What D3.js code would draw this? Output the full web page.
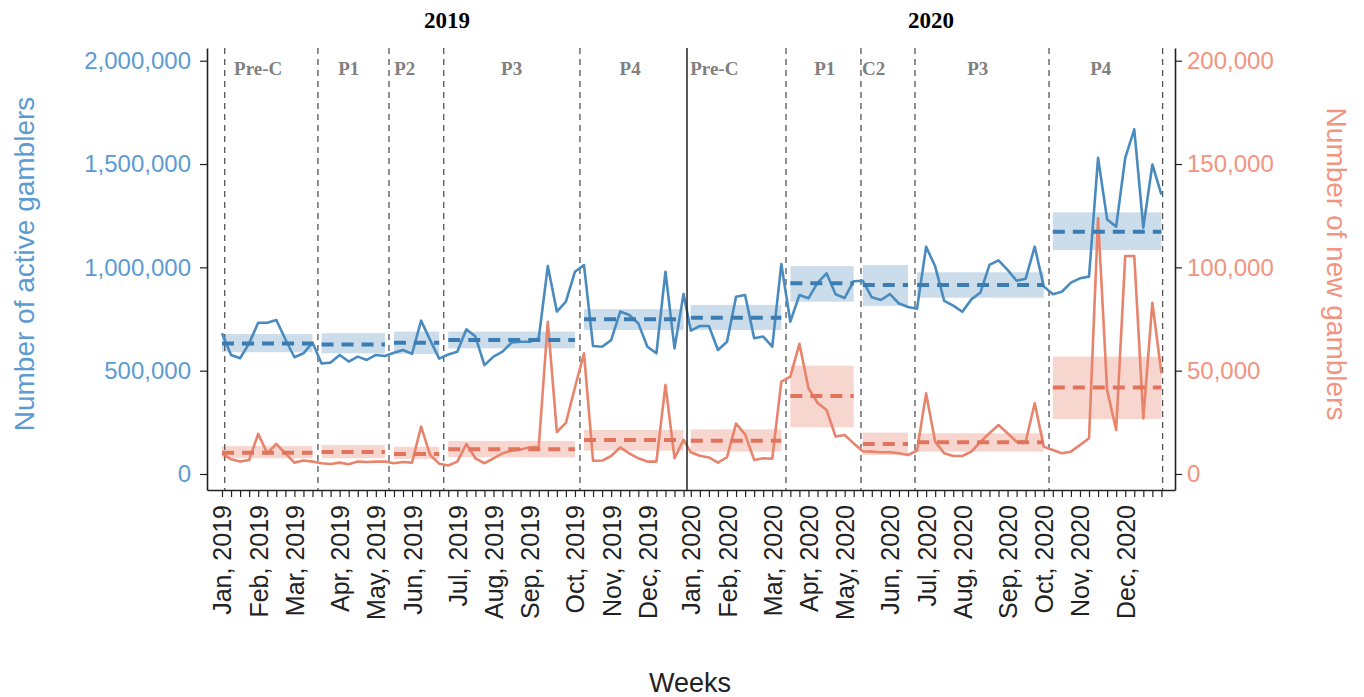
<!DOCTYPE html>
<html><head><meta charset="utf-8">
<script src="https://cdn.jsdelivr.net/npm/d3@7"></script>
<style>body{margin:0;background:#fff} svg{display:block}</style>
</head><body>
<svg id="chart" width="1364" height="697"></svg>
<script>
// ---------- DATA ----------
const years = ["2019", "2020"];
const monthNames = ["Jan","Feb","Mar","Apr","May","Jun","Jul","Aug","Sep","Oct","Nov","Dec"];
const monthWeeks2019 = [0,4,8,13,17,21,26,30,34,39,43,47];
const monthWeeks2020 = [0,4,9,13,17,22,26,30,35,39,43,48];
const weeksInYear = {"2019": 52, "2020": 53};

const active2019 = [681000,576000,560000,632000,732000,732000,745000,652000,565000,584000,636000,535000,539000,576000,544000,568000,552000,576000,571000,587000,600000,581000,742000,648000,558000,578000,592000,700000,665000,527000,568000,592000,636000,640000,640000,657000,1006000,786000,834000,979000,1011000,619000,616000,648000,786000,769000,729000,616000,584000,979000,608000,871000];
const active2020 = [694000,716000,716000,600000,640000,858000,866000,657000,665000,616000,1016000,737000,866000,850000,925000,971000,870000,852000,933000,935000,855000,842000,870000,825000,808000,800000,1100000,1005000,838000,815000,785000,845000,878000,1012000,1034000,988000,935000,945000,1100000,908000,870000,882000,926000,947000,955000,1530000,1232000,1197000,1530000,1668000,1192000,1498000,1352000];
const new2019 = [10000,7100,6000,6800,19400,10000,14500,10000,5500,6500,6000,5200,4800,5500,4700,6000,5800,6000,6000,5200,5800,5500,22900,9200,5000,4100,6000,14500,7600,5200,7600,10000,11300,11900,12900,13200,73700,20300,24700,42000,58400,6400,6500,8700,12900,10000,7600,6000,6000,43100,7600,16500];
const new2020 = [10500,8800,8000,5500,8100,24400,19200,6800,7600,7400,44700,47100,63000,41500,34500,31000,18100,18900,14800,11000,10800,10500,10500,10000,9200,11300,39000,15600,10000,8700,8700,10800,15600,19700,23700,19700,15600,15600,34200,13200,11600,10000,10800,14000,17300,123700,40600,21300,105500,105500,26900,82900,48700];

const periodNames2019 = ["Pre-C","P1","P2","P3","P4"];
const periodNames2020 = ["Pre-C","P1","C2","P3","P4"];
const periodStart = [0,11,19,25,40];
const periodEnd2019 = [10,18,24,39,51];
const periodEnd2020 = [10,18,24,39,52];
const boundaries2019 = [0.3,10.6,18.45,24.5,39.55];
const boundaries2020 = [10.52,18.8,24.77,39.58,52.13];
const labelWeeks2019 = [4.0,14.0,20.2,32.0,45.1];
const labelWeeks2020 = [2.6,14.8,20.2,31.7,45.3];

const activeMean2019 = [632000,627000,635000,648000,749000];
const activeLow2019  = [589000,584000,581000,608000,697000];
const activeHigh2019 = [677000,681000,689000,689000,798000];
const activeMean2020 = [756000,923000,915000,915000,1172000];
const activeLow2020  = [697000,834000,814000,853000,1084000];
const activeHigh2020 = [818000,1006000,1011000,976000,1266000];
const newMean2019 = [10300,10600,9700,12000,16500];
const newLow2019  = [7600,7600,7300,8100,11300];
const newHigh2019 = [13500,14000,13200,16000,21300];
const newMean2020 = [16100,37700,14500,15300,41800];
const newLow2020  = [10800,22600,9200,10800,26600];
const newHigh2020 = [21600,52400,20000,19700,56800];

const leftTicks = [0,500000,1000000,1500000,2000000];
const rightTicks = [0,50000,100000,150000,200000];

// ---------- LAYOUT ----------
const plot = {left:207, right:1175, top:48, bottom:490};
const yearOffset = {"2019": 0, "2020": 51.8};
const yearSplit = 51.38;
const colActive = "#4a8bbf", colActiveDark = "#3b7cb3", colNew = "#e8836c", colNewDark = "#e0745c";
const colLeftText = "#5b9bd2", colRightText = "#f29480";

const svg = d3.select("#chart");
const x = d3.scaleLinear().domain([-1.657, 105.3]).range([plot.left, plot.right]);
const yL = d3.scaleLinear().domain([-77500, 2061500]).range([plot.bottom, plot.top]);
const yR = d3.scaleLinear().domain([-7750, 206150]).range([plot.bottom, plot.top]);
const gx = (year, w) => x(w + yearOffset[year]);

const seriesActive = {"2019": active2019, "2020": active2020};
const seriesNew = {"2019": new2019, "2020": new2020};
const periodsByYear = {
  "2019": {names: periodNames2019, end: periodEnd2019, bounds: boundaries2019, labels: labelWeeks2019,
           aM: activeMean2019, aL: activeLow2019, aH: activeHigh2019, nM: newMean2019, nL: newLow2019, nH: newHigh2019},
  "2020": {names: periodNames2020, end: periodEnd2020, bounds: boundaries2020, labels: labelWeeks2020,
           aM: activeMean2020, aL: activeLow2020, aH: activeHigh2020, nM: newMean2020, nL: newLow2020, nH: newHigh2020}
};

// year titles
years.forEach((yr, i) => {
  const a = i === 0 ? x.domain()[0] : yearSplit;
  const b = i === 0 ? yearSplit : x.domain()[1];
  svg.append("text").attr("x", (x(a) + x(b)) / 2).attr("y", 28)
    .attr("text-anchor", "middle").attr("font-family", "Liberation Serif, Times New Roman, serif")
    .attr("font-weight", "bold").attr("font-size", 23).attr("fill", "#000").text(yr);
});

// ribbons
const gRib = svg.append("g");
years.forEach(yr => {
  const p = periodsByYear[yr];
  p.names.forEach((n, i) => {
    const x0 = gx(yr, periodStart[i]), x1 = gx(yr, p.end[i]);
    gRib.append("rect").attr("x", x0).attr("width", x1 - x0)
      .attr("y", yL(p.aH[i])).attr("height", yL(p.aL[i]) - yL(p.aH[i]))
      .attr("fill", "rgba(70,130,180,0.28)");
    gRib.append("rect").attr("x", x0).attr("width", x1 - x0)
      .attr("y", yR(p.nH[i])).attr("height", yR(p.nL[i]) - yR(p.nH[i]))
      .attr("fill", "rgba(232,120,98,0.30)");
  });
});

// period boundary dashed lines & labels
years.forEach(yr => {
  const p = periodsByYear[yr];
  p.bounds.forEach(b => {
    svg.append("line").attr("x1", gx(yr, b)).attr("x2", gx(yr, b))
      .attr("y1", plot.top).attr("y2", plot.bottom)
      .attr("stroke", "#555").attr("stroke-width", 1.3).attr("stroke-dasharray", "6,5");
  });
  p.names.forEach((n, i) => {
    svg.append("text").attr("x", gx(yr, p.labels[i])).attr("y", 75)
      .attr("text-anchor", "middle").attr("font-family", "Liberation Serif, Times New Roman, serif")
      .attr("font-weight", "bold").attr("font-size", 19).attr("fill", "#808080").text(n);
  });
});

// lines (continuous across years)
const ptsActive = [], ptsNew = [];
years.forEach(yr => {
  seriesActive[yr].forEach((v, w) => ptsActive.push([gx(yr, w), yL(v)]));
  seriesNew[yr].forEach((v, w) => ptsNew.push([gx(yr, w), yR(v)]));
});
const line = d3.line();
svg.append("path").attr("d", line(ptsNew)).attr("fill", "none")
  .attr("stroke", colNew).attr("stroke-width", 2.6).attr("stroke-linejoin", "round");
svg.append("path").attr("d", line(ptsActive)).attr("fill", "none")
  .attr("stroke", colActive).attr("stroke-width", 2.6).attr("stroke-linejoin", "round");

// dashed mean lines
years.forEach(yr => {
  const p = periodsByYear[yr];
  p.names.forEach((n, i) => {
    const x0 = gx(yr, periodStart[i]), x1 = gx(yr, p.end[i]);
    svg.append("line").attr("x1", x0).attr("x2", x1).attr("y1", yL(p.aM[i])).attr("y2", yL(p.aM[i]))
      .attr("stroke", colActiveDark).attr("stroke-width", 4).attr("stroke-dasharray", "12,8");
    svg.append("line").attr("x1", x0).attr("x2", x1).attr("y1", yR(p.nM[i])).attr("y2", yR(p.nM[i]))
      .attr("stroke", colNewDark).attr("stroke-width", 4).attr("stroke-dasharray", "12,8");
  });
});

// year separator
svg.append("line").attr("x1", x(yearSplit)).attr("x2", x(yearSplit))
  .attr("y1", plot.top).attr("y2", plot.bottom).attr("stroke", "#222").attr("stroke-width", 1.5);

// axes
const fmt = d3.format(",");
const axL = svg.append("g").attr("transform", `translate(${plot.left},0)`)
  .call(d3.axisLeft(yL).tickValues(leftTicks).tickFormat(fmt).tickSize(7).tickSizeOuter(0).tickPadding(9));
axL.selectAll("text").attr("fill", colLeftText).attr("font-size", 24).attr("font-family", "Liberation Sans, Arial, sans-serif");
const axR = svg.append("g").attr("transform", `translate(${plot.right},0)`)
  .call(d3.axisRight(yR).tickValues(rightTicks).tickFormat(fmt).tickSize(7).tickSizeOuter(0).tickPadding(5));
axR.selectAll("text").attr("fill", colRightText).attr("font-size", 24).attr("font-family", "Liberation Sans, Arial, sans-serif");

const weekTicks = [], weekLabels = new Map();
years.forEach(yr => {
  const mw = yr === "2019" ? monthWeeks2019 : monthWeeks2020;
  d3.range(weeksInYear[yr]).forEach(w => {
    const g = w + yearOffset[yr];
    weekTicks.push(g);
    const mi = mw.indexOf(w);
    if (mi >= 0) weekLabels.set(g, `${monthNames[mi]}, ${yr}`);
  });
});
const axB = svg.append("g").attr("transform", `translate(0,${plot.bottom})`)
  .call(d3.axisBottom(x).tickValues(weekTicks).tickFormat(g => weekLabels.get(g) || "").tickSize(7).tickSizeOuter(0));
axB.selectAll("text").attr("transform", "rotate(-90)").attr("x", -15).attr("y", 0).attr("dy", "0.36em")
  .style("text-anchor", "end").attr("fill", "#222").attr("font-size", 25).attr("font-family", "Liberation Sans, Arial, sans-serif");
[axL, axR, axB].forEach(a => { a.select(".domain").attr("stroke", "#222").attr("stroke-width", 1.6); a.selectAll(".tick line").attr("stroke", "#222").attr("stroke-width", 1.2); });

// axis titles
svg.append("text").attr("transform", `translate(24,264) rotate(-90)`)
  .attr("text-anchor", "middle").attr("dy", "0.35em").attr("font-family", "Liberation Sans, Arial, sans-serif")
  .attr("font-size", 28).attr("fill", colLeftText).text("Number of active gamblers");
svg.append("text").attr("transform", `translate(1337,264) rotate(90)`)
  .attr("text-anchor", "middle").attr("dy", "0.35em").attr("font-family", "Liberation Sans, Arial, sans-serif")
  .attr("font-size", 28).attr("fill", colRightText).text("Number of new gamblers");
svg.append("text").attr("x", 690).attr("y", 692).attr("text-anchor", "middle")
  .attr("font-family", "Liberation Sans, Arial, sans-serif").attr("font-size", 27).attr("fill", "#222").text("Weeks");
</script>
</body></html>
